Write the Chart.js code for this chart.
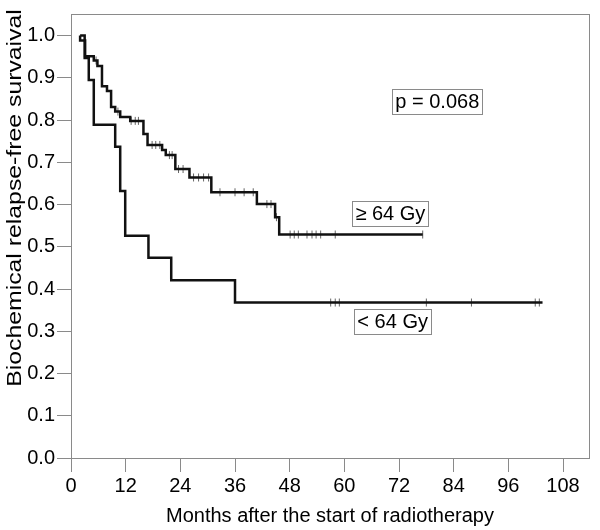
<!DOCTYPE html>
<html>
<head>
<meta charset="utf-8">
<script src="https://cdn.jsdelivr.net/npm/chart.js@4/dist/chart.umd.min.js"></script>
<style>
  html, body { margin: 0; padding: 0; background: #fff; }
  #wrap { width: 600px; height: 530px; }
</style>
</head>
<body>
<div id="wrap"><canvas id="c" width="600" height="530"></canvas></div>
<script>
// ---- data ----
const xTickValues = [0, 12, 24, 36, 48, 60, 72, 84, 96, 108];
const yTickValues = [0, 0.1, 0.2, 0.3, 0.4, 0.5, 0.6, 0.7, 0.8, 0.9, 1.0];

// >= 64 Gy : event times (months) and survival after each step
const highTimes = [2, 2, 3.1, 5.0, 5.8, 6.8, 7.9, 8.8, 9.7, 10.8, 13.0, 15.9, 16.8, 20.0, 20.8, 22.9, 26.0, 30.8, 40.8, 44.8, 45.7, 77.2];
const highSurv  = [1.0, 0.988, 0.951, 0.941, 0.928, 0.880, 0.869, 0.831, 0.820, 0.807, 0.798, 0.767, 0.741, 0.729, 0.717, 0.684, 0.664, 0.629, 0.601, 0.570, 0.529, 0.529];
const highCensorTimes = [5.5, 10.3, 13.2, 14.1, 14.8, 17.8, 18.6, 19.5, 21.6, 22.2, 23.6, 24.6, 26.9, 28.0, 29.1, 30.2, 32.7, 36.0, 38.0, 40.0, 43.0, 43.9, 45.1, 48.1, 49.0, 49.9, 51.8, 52.9, 53.8, 54.8, 58.0, 77.2];
const highCensorSurv  = [0.941, 0.820, 0.798, 0.798, 0.798, 0.741, 0.741, 0.741, 0.717, 0.717, 0.684, 0.684, 0.664, 0.664, 0.664, 0.664, 0.629, 0.629, 0.629, 0.629, 0.601, 0.601, 0.570, 0.529, 0.529, 0.529, 0.529, 0.529, 0.529, 0.529, 0.529, 0.529];

// < 64 Gy
const lowTimes = [2, 3.0, 3.9, 5.0, 9.7, 10.8, 11.9, 17.0, 22.0, 36.0, 103.5];
const lowSurv  = [1.0, 0.947, 0.895, 0.789, 0.737, 0.632, 0.526, 0.474, 0.421, 0.368, 0.368];
const lowCensorTimes = [57.0, 58.0, 58.9, 78.0, 87.9, 101.9, 102.8];
const lowCensorSurv  = [0.368, 0.368, 0.368, 0.368, 0.368, 0.368, 0.368];

// text boxes: [text, month, survival]
const boxLabels = ["p = 0.068", "\u2265 64 Gy", "< 64 Gy"];
const boxX = [80.4, 70.1, 70.6];
const boxY = [0.844, 0.579, 0.323];

const xTitle = "Months after the start of radiotherapy";
const yTitle = "Biochemical relapse-free survaival";

// ---- build ----
const pts = (xs, ys) => xs.map((x, i) => ({ x: x, y: ys[i] }));
const FONT = "'Liberation Sans', Arial, sans-serif";

const framePlugin = {
  id: 'frame',
  beforeDatasetsDraw(chart) {
    const { ctx, chartArea: a } = chart;
    ctx.save();
    ctx.strokeStyle = '#8a8a8a';
    ctx.lineWidth = 1;
    ctx.strokeRect(Math.round(a.left) + 0.5, Math.round(a.top) + 0.5,
                   Math.round(a.right - a.left), Math.round(a.bottom - a.top));
    ctx.restore();
  },
  afterDraw(chart) {
    const { ctx, scales } = chart;
    ctx.save();
    ctx.font = '20px ' + FONT;
    ctx.textAlign = 'center';
    ctx.textBaseline = 'middle';
    boxLabels.forEach((t, i) => {
      const cx = scales.x.getPixelForValue(boxX[i]);
      const cy = scales.y.getPixelForValue(boxY[i]);
      const w = ctx.measureText(t).width + 6;
      const h = 25;
      ctx.fillStyle = '#fff';
      ctx.fillRect(cx - w / 2, cy - h / 2, w, h);
      ctx.strokeStyle = '#8a8a8a';
      ctx.lineWidth = 1;
      ctx.strokeRect(Math.round(cx - w / 2) + 0.5, Math.round(cy - h / 2) + 0.5, Math.round(w), h);
      ctx.fillStyle = '#000';
      ctx.fillText(t, cx, cy + 1);
    });
    // y axis title (stretched along its length like the reference)
    ctx.save();
    ctx.translate(15, 198);
    ctx.rotate(-Math.PI / 2);
    ctx.scale(1.24, 1);
    ctx.fillStyle = '#000';
    ctx.font = '20px ' + FONT;
    ctx.textAlign = 'center';
    ctx.textBaseline = 'middle';
    ctx.fillText(yTitle, 0, 0);
    ctx.restore();
    ctx.restore();
  }
};

new Chart(document.getElementById('c'), {
  type: 'scatter',
  data: {
    datasets: [
      { data: pts(highTimes, highSurv), showLine: true, stepped: 'before', borderColor: '#111', borderWidth: 2.5, pointRadius: 0, fill: false },
      { data: pts(lowTimes, lowSurv), showLine: true, stepped: 'before', borderColor: '#111', borderWidth: 2.5, pointRadius: 0, fill: false },
      { data: pts(highCensorTimes, highCensorSurv), showLine: false, pointStyle: 'line', rotation: 90, pointRadius: 4, borderColor: '#666', borderWidth: 1 },
      { data: pts(lowCensorTimes, lowCensorSurv), showLine: false, pointStyle: 'line', rotation: 90, pointRadius: 4, borderColor: '#666', borderWidth: 1 }
    ]
  },
  options: {
    responsive: false,
    animation: false,
    devicePixelRatio: 1,
    layout: { padding: { left: 0, right: 11, top: 13, bottom: 0 } },
    plugins: { legend: { display: false }, tooltip: { enabled: false } },
    scales: {
      x: {
        type: 'linear', min: 0, max: 113.7,
        afterBuildTicks: (axis) => { axis.ticks = xTickValues.map(v => ({ value: v })); },
        afterFit: (axis) => { axis.height = 72; },
        grid: { display: true, drawOnChartArea: false, drawTicks: true, tickLength: 14, color: '#8a8a8a' },
        border: { display: true, color: '#8a8a8a' },
        ticks: { color: '#000', font: { size: 20, family: FONT }, padding: 2, maxRotation: 0, autoSkip: false },
        title: { display: true, text: xTitle, color: '#000', font: { size: 20, family: FONT }, padding: { top: 0, bottom: 2 } }
      },
      y: {
        type: 'linear', min: 0, max: 1.051,
        afterBuildTicks: (axis) => { axis.ticks = yTickValues.map(v => ({ value: v })); },
        afterFit: (axis) => { axis.width = 71; },
        grid: { display: true, drawOnChartArea: false, drawTicks: true, tickLength: 14, color: '#8a8a8a' },
        border: { display: true, color: '#8a8a8a' },
        ticks: { color: '#000', font: { size: 20, family: FONT }, padding: 2, callback: (v) => Number(v).toFixed(1) },
        title: { display: false }
      }
    }
  },
  plugins: [framePlugin]
});
</script>
</body>
</html>
